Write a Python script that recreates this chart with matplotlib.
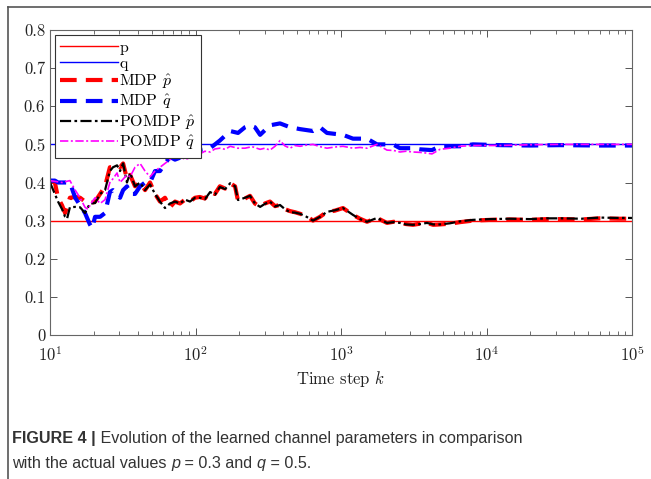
import numpy as np
import matplotlib
matplotlib.use("Agg")
import matplotlib.pyplot as plt
from matplotlib.ticker import FixedLocator, FixedFormatter, LogLocator, NullFormatter

# --- DATA ---
P_TRUE = 0.3
Q_TRUE = 0.5

mdp_p_k = [10, 10.8, 11.35, 12.1, 12.7, 13.7, 14.9, 16.1, 17.4, 18.8, 20.4, 22.1, 23.9, 25.8,
           27.1, 28.9, 30.3, 31.8, 33.8, 35.5, 38.4, 41.6, 45.0, 48.7, 52.7, 57.0, 61.7, 66.8,
           72.3, 78.2, 84.7, 91.6, 99.2, 107, 116, 126, 136, 147, 160, 173, 187, 196, 219,
           237, 256, 278, 300, 325, 352, 381, 412, 446, 483, 523, 580, 642, 717, 801, 905,
           1032, 1209, 1350, 1510, 1768, 2070, 2300, 2543, 2800, 3124, 3500, 3900, 4300,
           4786, 5610, 6570, 8070, 10560, 14500, 19900, 26000, 32000, 45000, 60300, 80000,
           100000]
mdp_p = [0.405, 0.40, 0.36, 0.34, 0.32, 0.36, 0.362, 0.36, 0.35, 0.345, 0.35, 0.37, 0.39, 0.44,
         0.44, 0.445, 0.44, 0.45, 0.41, 0.42, 0.39, 0.40, 0.38, 0.40, 0.37, 0.35, 0.36, 0.335,
         0.35, 0.345, 0.355, 0.35, 0.36, 0.362, 0.358, 0.375, 0.37, 0.39, 0.384, 0.398, 0.39,
         0.352, 0.358, 0.365, 0.345, 0.336, 0.345, 0.35, 0.338, 0.341, 0.33, 0.325, 0.322,
         0.318, 0.312, 0.30, 0.31, 0.323, 0.326, 0.333, 0.315, 0.305, 0.297, 0.307, 0.294,
         0.297, 0.294, 0.291, 0.289, 0.292, 0.294, 0.289, 0.29, 0.292, 0.296, 0.30, 0.302,
         0.303, 0.302, 0.304, 0.304, 0.303, 0.306, 0.305, 0.305]

pomdp_p_k = [10, 10.8, 11.35, 12.1, 12.7, 13.1, 13.7, 14.9, 16.1, 17.4, 18.8, 20.4, 22.1, 23.9,
             25.8, 27.1, 28.9, 30.3, 31.8, 33.8, 35.5, 38.4, 41.6, 45.0, 48.7, 52.7, 57.0,
             61.7, 66.8, 72.3, 78.2, 84.7, 91.6, 99.2, 107, 116, 126, 136, 147, 160, 173, 187,
             196, 219, 237, 256, 278, 300, 325, 352, 381, 412, 446, 483, 523, 580, 642, 717,
             801, 905, 1032, 1209, 1350, 1510, 1768, 2070, 2300, 2543, 2800, 3124, 3500, 3900,
             4300, 4786, 5610, 6570, 8070, 10560, 14500, 19900, 26000, 32000, 45000, 60300,
             80000, 100000]
pomdp_p = [0.40, 0.37, 0.35, 0.33, 0.31, 0.305, 0.335, 0.336, 0.335, 0.32, 0.345, 0.346, 0.37,
           0.38, 0.43, 0.44, 0.445, 0.43, 0.45, 0.40, 0.425, 0.39, 0.40, 0.38, 0.395, 0.37,
           0.35, 0.333, 0.345, 0.35, 0.345, 0.355, 0.35, 0.36, 0.36, 0.356, 0.375, 0.368,
           0.388, 0.383, 0.398, 0.39, 0.354, 0.36, 0.365, 0.345, 0.336, 0.344, 0.35, 0.337,
           0.341, 0.33, 0.322, 0.321, 0.318, 0.31, 0.30, 0.31, 0.323, 0.327, 0.333, 0.315,
           0.304, 0.297, 0.307, 0.294, 0.296, 0.294, 0.29, 0.289, 0.291, 0.294, 0.29, 0.29,
           0.293, 0.298, 0.302, 0.304, 0.305, 0.304, 0.306, 0.306, 0.305, 0.308, 0.307,
           0.307]

mdp_q_k = [10, 10.8, 11.35, 12.1, 12.7, 13.7, 14.9, 16.1, 17.4, 18.8, 19.5, 20.4, 22.1, 23.9,
           25.8, 27.1, 28.9, 30.3, 31.8, 33.8, 35.5, 38.4, 41.6, 45.0, 48.7, 52.7, 57.0, 61.7,
           66.8, 72.3, 78.2, 84.7, 91.6, 99.2, 107, 126, 147, 173, 196, 219, 237, 256, 278,
           325, 381, 446, 523, 642, 717, 801, 1032, 1209, 1510, 1768, 2276, 2543, 3124, 3490,
           4219, 4786, 6570, 8070, 12380, 19900, 32000, 60300, 100000]
mdp_q = [0.405, 0.405, 0.40, 0.40, 0.40, 0.40, 0.36, 0.34, 0.32, 0.29, 0.28, 0.31, 0.31, 0.32,
         0.375, 0.38, 0.37, 0.36, 0.38, 0.39, 0.37, 0.37, 0.39, 0.40, 0.40, 0.43, 0.43, 0.45,
         0.467, 0.46, 0.465, 0.47, 0.48, 0.49, 0.485, 0.49, 0.51, 0.535, 0.53, 0.545, 0.55,
         0.545, 0.525, 0.55, 0.555, 0.545, 0.54, 0.535, 0.545, 0.53, 0.525, 0.515, 0.515,
         0.50, 0.50, 0.49, 0.49, 0.487, 0.485, 0.495, 0.495, 0.50, 0.498, 0.497, 0.498,
         0.497, 0.497]

pomdp_q_k = [10, 12.1, 13.7, 14.9, 16.1, 17.4, 18.2, 19.5, 20.4, 22.1, 23.9, 25.8, 27.1, 28.9,
             30.3, 33.8, 35.5, 38.4, 41.6, 45.0, 48.7, 52.7, 57.0, 61.7, 66.8, 72.3, 78.2,
             84.7, 91.6, 99.2, 107, 116, 126, 136, 147, 160, 173, 195, 219, 245, 278, 300, 325,
             352, 381, 412, 446, 483, 523, 580, 642, 717, 801, 905, 1032, 1209, 1350, 1510,
             1768, 2070, 2300, 2543, 2800, 3124, 3500, 3900, 4219, 4786, 5610, 6570, 8070,
             12380, 19900, 32000, 100000]
pomdp_q = [0.405, 0.40, 0.405, 0.38, 0.36, 0.335, 0.33, 0.35, 0.36, 0.345, 0.355, 0.40, 0.41,
           0.425, 0.40, 0.42, 0.415, 0.44, 0.45, 0.43, 0.415, 0.43, 0.44, 0.45, 0.46, 0.47,
           0.47, 0.46, 0.465, 0.48, 0.475, 0.482, 0.48, 0.488, 0.49, 0.487, 0.495, 0.49,
           0.49, 0.494, 0.487, 0.49, 0.485, 0.495, 0.51, 0.496, 0.49, 0.497, 0.495, 0.498,
           0.50, 0.494, 0.49, 0.493, 0.495, 0.49, 0.492, 0.49, 0.50, 0.485, 0.484, 0.48,
           0.482, 0.48, 0.479, 0.477, 0.475, 0.487, 0.49, 0.495, 0.497, 0.497, 0.499, 0.50,
           0.50]

y_ticks = [0, 0.1, 0.2, 0.3, 0.4, 0.5, 0.6, 0.7, 0.8]
y_tick_labels = ["0", "0.1", "0.2", "0.3", "0.4", "0.5", "0.6", "0.7", "0.8"]
x_ticks = [1e1, 1e2, 1e3, 1e4, 1e5]

# --- STYLE ---
plt.rcParams["font.family"] = ["cmr10", "DejaVu Serif"]
plt.rcParams["mathtext.fontset"] = "cm"
plt.rcParams["axes.formatter.use_mathtext"] = True
plt.rcParams["axes.unicode_minus"] = False

fig = plt.figure(figsize=(6.51, 4.79), dpi=100)
ax = fig.add_axes([50 / 651, 1 - 335 / 479, 582 / 651, 305 / 479])

ax.axhline(P_TRUE, color="#ff0000", linewidth=1.0, label="p")
ax.axhline(Q_TRUE, color="#0000ff", linewidth=1.0, label="q")
ax.plot(mdp_p_k, mdp_p, color="#ff0000", linewidth=3.0, linestyle=(0, (4, 2.2)),
        label=r"MDP $\hat{p}$")
ax.plot(mdp_q_k, mdp_q, color="#0000ff", linewidth=3.0, linestyle=(0, (4, 2.2)),
        label=r"MDP $\hat{q}$")
ax.plot(pomdp_p_k, pomdp_p, color="black", linewidth=1.6, linestyle=(0, (5, 1.5, 1.2, 1.5)),
        label=r"POMDP $\hat{p}$")
ax.plot(pomdp_q_k, pomdp_q, color="#ff00ff", linewidth=1.2, linestyle=(0, (5, 1.5, 1.2, 1.5)),
        label=r"POMDP $\hat{q}$")

ax.set_xscale("log")
ax.set_xlim(10, 1e5)
ax.set_ylim(0, 0.8)
ax.yaxis.set_major_locator(FixedLocator(y_ticks))
ax.yaxis.set_major_formatter(FixedFormatter(y_tick_labels))
ax.xaxis.set_major_locator(FixedLocator(x_ticks))
ax.xaxis.set_minor_locator(LogLocator(base=10, subs=np.arange(2, 10)))
ax.xaxis.set_minor_formatter(NullFormatter())

ax.tick_params(which="both", direction="in", top=True, right=True, colors="#555555",
               labelcolor="#222222", labelsize=12)
ax.tick_params(which="major", length=5, width=0.7)
ax.tick_params(which="minor", length=3, width=0.6)
ax.tick_params(axis="x", pad=7)
for s in ax.spines.values():
    s.set_color("#666666")
    s.set_linewidth(0.8)

ax.set_xlabel(r"Time step $k$", fontsize=12, color="#222222", labelpad=3)

leg = ax.legend(loc="upper left", fontsize=11.5, handlelength=3.6, fancybox=False,
                edgecolor="#333333", framealpha=1, borderaxespad=0.3, labelspacing=0.12,
                handletextpad=0.1, borderpad=0.35)
leg.get_frame().set_linewidth(0.8)

# figure frame (partial box as in the reference)
fig.add_artist(plt.Line2D([8 / 651, 1], [1 - 7 / 479] * 2, color="#555555", linewidth=1.2))
fig.add_artist(plt.Line2D([8 / 651] * 2, [0, 1 - 7 / 479], color="#555555", linewidth=1.2))

# caption, placed piece by piece
cap_family = ["Liberation Sans", "DejaVu Sans"]
renderer = fig.canvas.get_renderer()


def put_line(x0, y0, pieces, size):
    x = x0
    for txt, weight, style in pieces:
        t = fig.text(x, y0, txt, fontsize=size, fontweight=weight, fontstyle=style,
                     family=cap_family, color="#333333", ha="left", va="baseline")
        bb = t.get_window_extent(renderer=renderer)
        x += bb.width / fig.bbox.width


put_line(12 / 651, 1 - 443 / 479,
         [("FIGURE 4 |", "bold", "normal"),
          (" Evolution of the learned channel parameters in comparison", "normal", "normal")],
         11.6)
put_line(12 / 651, 1 - 468 / 479,
         [("with the actual values ", "normal", "normal"), ("p", "normal", "italic"),
          (" = 0.3 and ", "normal", "normal"), ("q", "normal", "italic"),
          (" = 0.5.", "normal", "normal")],
         11.6)

fig.savefig("out.png", dpi=100, facecolor="white")
